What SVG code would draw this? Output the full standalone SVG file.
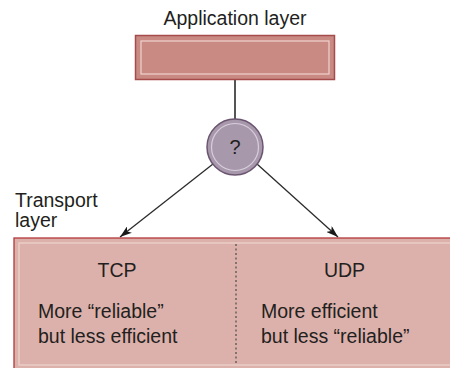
<svg xmlns="http://www.w3.org/2000/svg" width="450" height="368" viewBox="0 0 450 368">
<style>
text{font-family:"Liberation Sans",Arial,sans-serif;font-size:19.5px;fill:#231f20}
.c{text-anchor:middle}
.conn{stroke:#2b2b2b;stroke-width:1.3;fill:none}
</style>
<defs>
<marker id="ah" viewBox="0 0 12 8" refX="12" refY="4" markerWidth="12" markerHeight="8" markerUnits="userSpaceOnUse" orient="auto">
<path d="M0,0 L12,4 L0,8 L3,4 Z" fill="#1a1a1a"/>
</marker>
</defs>
<rect width="450" height="368" fill="#fff"/>
<g id="app">
<text class="c" x="235" y="25">Application layer</text>
<rect x="135.5" y="35.5" width="199" height="44" fill="#c98a84" stroke="#a54b4b" stroke-width="1.5"/>
<rect x="141" y="41" width="188" height="33" fill="none" stroke="#f0d2ce" stroke-width="1.2"/>
</g>
<g id="transport">
<text x="15" y="207">Transport</text>
<text x="15" y="227">layer</text>
<rect x="14" y="238" width="450" height="140" fill="#dcb1ab" stroke="#b2363b" stroke-width="1.3"/>
<rect x="19" y="243" width="440" height="122" fill="none" stroke="#ebcdc8" stroke-width="1.5"/>
<line x1="236" y1="244" x2="236" y2="364" stroke="#4a4a4a" stroke-width="1.2" stroke-dasharray="2,2.5"/>
</g>
<g id="tcp">
<text class="c" x="117" y="277">TCP</text>
<text x="38" y="318">More “reliable”</text>
<text x="38" y="343">but less efficient</text>
</g>
<g id="udp">
<text class="c" x="344.5" y="277">UDP</text>
<text x="261" y="318">More efficient</text>
<text x="261" y="343">but less “reliable”</text>
</g>
<g id="connectors">
<line x1="235" y1="80" x2="235" y2="119" stroke="#555" stroke-width="2"/>
<line class="conn" x1="213" y1="164" x2="120" y2="237" marker-end="url(#ah)"/>
<line class="conn" x1="257" y1="164" x2="338" y2="237" marker-end="url(#ah)"/>
</g>
<g id="decision">
<circle cx="235" cy="147" r="28" fill="#a898ab" stroke="#6b5570" stroke-width="1.5"/>
<circle cx="235" cy="147" r="23.5" fill="none" stroke="#d9cede" stroke-width="1.2"/>
<text class="c" x="235" y="154" style="font-size:20px">?</text>
</g>
</svg>
